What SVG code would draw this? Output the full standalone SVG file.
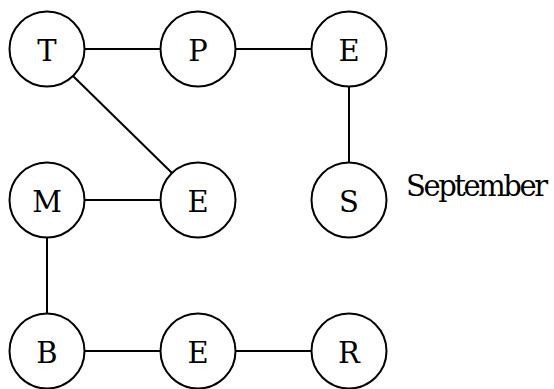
<svg xmlns="http://www.w3.org/2000/svg" width="554" height="389" viewBox="0 0 554 389">
<style>
.n{fill:#fff;stroke:#000;stroke-width:2}
.t{font-family:'DejaVu Serif',serif;font-size:29px;text-anchor:middle;fill:#000}
.l{font-family:'DejaVu Serif',serif;font-size:29px;fill:#000}
.e{stroke:#000;stroke-width:2;fill:none}
</style>
<rect width="554" height="389" fill="#fff"/>
<g id="edges">
<line class="e" x1="84.5" y1="49" x2="160.5" y2="49"/>
<line class="e" x1="235.5" y1="49" x2="311.5" y2="49"/>
<line class="e" x1="349" y1="86.5" x2="349" y2="162.5"/>
<line class="e" x1="73" y1="76" x2="172" y2="173"/>
<line class="e" x1="84.5" y1="200" x2="160.5" y2="200"/>
<line class="e" x1="47" y1="237.5" x2="47" y2="313.5"/>
<line class="e" x1="84.5" y1="351" x2="160.5" y2="351"/>
<line class="e" x1="235.5" y1="351" x2="311.5" y2="351"/>
</g>
<g id="T"><circle class="n" cx="47" cy="49" r="37.5"/><text class="t" x="47" y="61">T</text></g>
<g id="P"><circle class="n" cx="198" cy="49" r="37.5"/><text class="t" x="198" y="61">P</text></g>
<g id="E1"><circle class="n" cx="349" cy="49" r="37.5"/><text class="t" x="349" y="61">E</text></g>
<g id="M"><circle class="n" cx="47" cy="200" r="37.5"/><text class="t" x="47" y="212">M</text></g>
<g id="E2"><circle class="n" cx="198" cy="200" r="37.5"/><text class="t" x="198" y="212">E</text></g>
<g id="S"><circle class="n" cx="349" cy="200" r="37.5"/><text class="t" x="349" y="212">S</text></g>
<g id="B"><circle class="n" cx="47" cy="351" r="37.5"/><text class="t" x="47" y="363">B</text></g>
<g id="E3"><circle class="n" cx="198" cy="351" r="37.5"/><text class="t" x="198" y="363">E</text></g>
<g id="R"><circle class="n" cx="349" cy="351" r="37.5"/><text class="t" x="349" y="363">R</text></g>
<g id="label"><text class="l" x="406" y="196" textLength="142">September</text></g>
</svg>
